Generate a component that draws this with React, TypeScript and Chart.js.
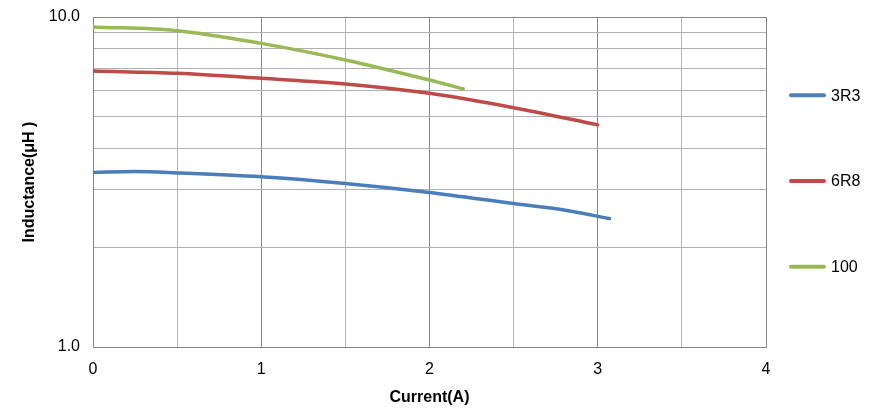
import React, { useEffect, useRef } from "react";
import { Chart, registerables } from "chart.js";

Chart.register(...registerables);

const seriesNames = ["3R3", "6R8", "100"];
const seriesColors = ["#4A7EBB", "#BE4B48", "#98B954"];

const current3R3 = [0, 0.25, 0.5, 1, 1.5, 2, 2.5, 2.8, 3.07];
const induct3R3 = [3.38, 3.4, 3.37, 3.28, 3.13, 2.94, 2.72, 2.6, 2.45];

const current6R8 = [0, 0.5, 1, 1.5, 2, 2.5, 3];
const induct6R8 = [6.86, 6.75, 6.52, 6.27, 5.87, 5.31, 4.71];

const current100 = [0, 0.5, 1, 1.5, 2, 2.2];
const induct100 = [9.33, 9.09, 8.32, 7.41, 6.44, 6.06];

const yGridValues = [1, 2, 3, 4, 5, 6, 7, 8, 9, 10];
const yTickLabels: Record<number, string> = { 1: "1.0", 10: "10.0" };
const xLabelTicks = [0, 1, 2, 3, 4];

const xTitle = "Current(A)";
const yTitle = "Inductance(μH )";

const FONT = '"Liberation Sans", Arial, sans-serif';

const toPoints = (xs: number[], ys: number[]) => xs.map((x, i) => ({ x, y: ys[i] }));

const sideLegend = {
  id: "sideLegend",
  afterDraw(chart: any) {
    const { ctx, chartArea } = chart;
    const cy = (chartArea.top + chartArea.bottom) / 2 - 1;
    const gap = 85.7;
    ctx.save();
    chart.data.datasets.forEach((ds: any, i: number) => {
      const y = cy + (i - 1) * gap;
      const x0 = chartArea.right + 23;
      ctx.strokeStyle = ds.borderColor;
      ctx.lineWidth = 4;
      ctx.lineCap = "round";
      ctx.beginPath();
      ctx.moveTo(x0 + 2, y);
      ctx.lineTo(x0 + 35, y);
      ctx.stroke();
      ctx.fillStyle = "#000";
      ctx.font = `16px ${FONT}`;
      ctx.textBaseline = "middle";
      ctx.textAlign = "left";
      ctx.fillText(ds.label, x0 + 42, y + 1);
    });
    ctx.restore();
  },
};

export default function App() {
  const ref = useRef<HTMLCanvasElement | null>(null);

  useEffect(() => {
    if (!ref.current) return;
    const seriesX = [current3R3, current6R8, current100];
    const seriesY = [induct3R3, induct6R8, induct100];
    const chart = new Chart(ref.current, {
      type: "line",
      data: {
        datasets: seriesNames.map((name, i) => ({
          label: name,
          data: toPoints(seriesX[i], seriesY[i]),
          borderColor: seriesColors[i],
          backgroundColor: seriesColors[i],
          borderWidth: 3.5,
          pointRadius: 0,
          pointHoverRadius: 0,
          cubicInterpolationMode: "monotone" as const,
          borderCapStyle: "round" as const,
          fill: false,
        })),
      },
      options: {
        animation: false,
        responsive: true,
        maintainAspectRatio: false,
        layout: { padding: { left: 16.4, right: 114, top: 17, bottom: 5.4 } },
        plugins: {
          legend: { display: false },
          tooltip: { enabled: false },
        },
        scales: {
          x: {
            type: "linear",
            min: 0,
            max: 4,
            afterFit: (axis: any) => {
              axis.height = 62.6;
              axis.paddingLeft = 4;
              axis.paddingRight = 4;
            },
            ticks: {
              stepSize: 0.5,
              autoSkip: false,
              maxRotation: 0,
              padding: 13,
              color: "#000",
              font: { family: FONT, size: 16 },
              callback: (v: any) => (xLabelTicks.includes(Number(v)) ? String(v) : ""),
            },
            grid: {
              drawTicks: false,
              lineWidth: 1,
              color: (c: any) => (Number(c.tick?.value) % 1 === 0 ? "#868686" : "#b5b5b5"),
            },
            border: { color: "#868686", width: 1 },
            title: {
              display: true,
              text: xTitle,
              color: "#000",
              font: { family: FONT, size: 16, weight: "bold" },
              padding: { top: 8.8, bottom: 2.5 },
            },
          },
          y: {
            type: "logarithmic",
            min: 1,
            max: 10,
            afterBuildTicks: (axis: any) => {
              axis.ticks = yGridValues.map((v) => ({ value: v }));
            },
            afterFit: (axis: any) => {
              axis.width = 76.6;
              axis.paddingTop = 8;
              axis.paddingBottom = 8;
            },
            ticks: {
              autoSkip: false,
              padding: 13,
              color: "#000",
              font: { family: FONT, size: 16 },
              callback: (v: any) => yTickLabels[Number(v)] ?? "",
            },
            grid: {
              drawTicks: false,
              lineWidth: 1,
              color: (c: any) => {
                const v = Number(c.tick?.value);
                return v === 1 || v === 10 ? "#868686" : "#b0b0b0";
              },
            },
            border: { color: "#868686", width: 1 },
            title: {
              display: true,
              text: yTitle,
              color: "#000",
              font: { family: FONT, size: 16, weight: "bold" },
              padding: { top: 4, bottom: 9.4 },
            },
          },
        },
      },
      plugins: [sideLegend],
    });
    return () => chart.destroy();
  }, []);

  return (
    <div style={{ position: "absolute", left: 0, top: 0, width: 880, height: 415, background: "#fff" }}>
      <canvas ref={ref} />
    </div>
  );
}
